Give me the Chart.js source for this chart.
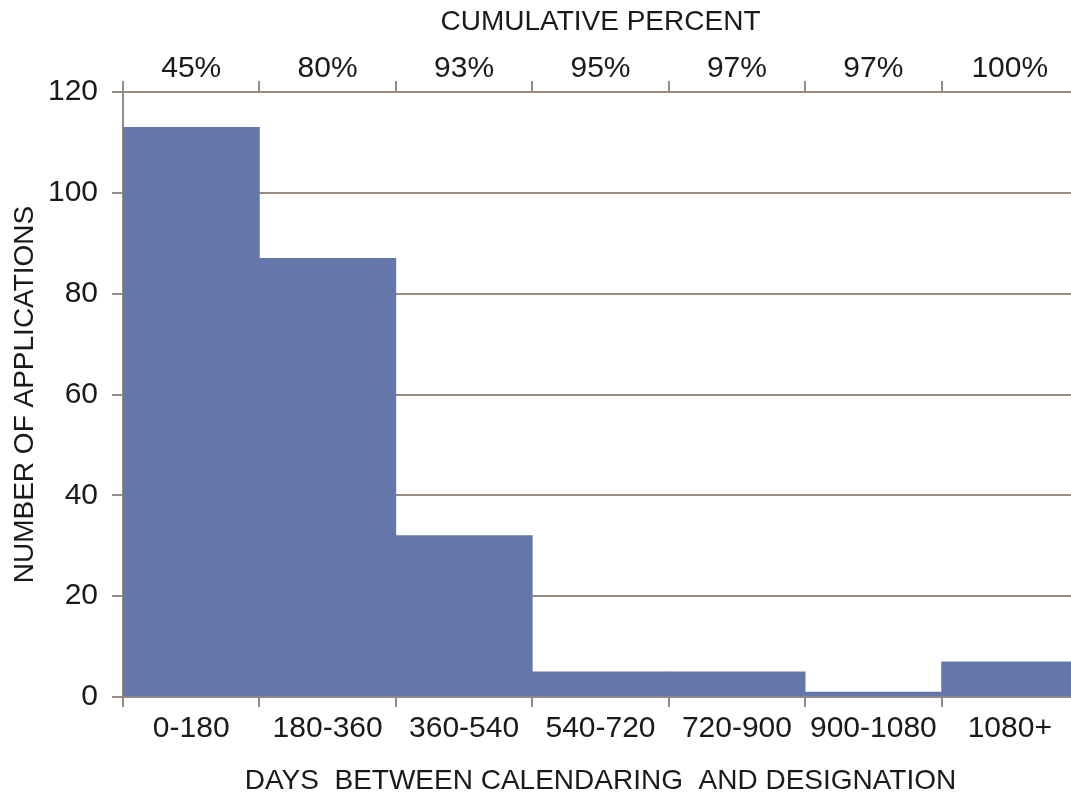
<!DOCTYPE html>
<html>
<head>
<meta charset="utf-8">
<script src="https://cdn.jsdelivr.net/npm/chart.js@4"></script>
<style>
  body { margin: 0; background: #fff; overflow: hidden; }
</style>
</head>
<body>
<canvas id="myChart" width="1078" height="799"></canvas>
<script>
  const dayRanges = ['0-180', '180-360', '360-540', '540-720', '720-900', '900-1080', '1080+']
  const applications = [113, 87, 32, 5, 5, 1, 7]
  const cumulativePct = ['45%', '80%', '93%', '95%', '97%', '97%', '100%']

  const axisColor = '#958b82'
  const font = 'Liberation Sans, Arial, Helvetica, sans-serif'

  let ctx = document.getElementById('myChart')

  new Chart(ctx, {
    type: 'bar',
    data: {
      labels: dayRanges,
      datasets: [
        {
          label: 'Applications',
          backgroundColor: '#6377ab',
          data: applications,
          borderWidth: 0,
          categoryPercentage: 1,
          barPercentage: 1
        }
      ]
    },
    options: {
      responsive: false,
      animation: false,
      layout: { padding: 0 },
      plugins: {
        legend: { display: false },
        tooltip: { enabled: false }
      },
      scales: {
        x: {
          position: 'bottom',
          offset: true,
          grid: { offset: true, drawOnChartArea: false, color: axisColor, lineWidth: 2, tickLength: 10 },
          border: { color: axisColor, width: 2 },
          ticks: { color: '#1a1a1a', padding: 4, font: { family: font, size: 30 } },
          title: {
            display: true,
            text: 'DAYS  BETWEEN CALENDARING  AND DESIGNATION',
            color: '#1a1a1a',
            padding: { top: 0, bottom: 1 },
            font: { family: font, size: 28 }
          },
          afterFit: (scale) => { scale.height = 102 }
        },
        x2: {
          type: 'category',
          position: 'top',
          labels: cumulativePct,
          offset: true,
          grid: { offset: true, drawOnChartArea: false, color: axisColor, lineWidth: 2, tickLength: 11 },
          border: { color: axisColor, width: 2 },
          ticks: { color: '#1a1a1a', padding: -6, font: { family: font, size: 30 } },
          title: {
            display: true,
            text: 'CUMULATIVE PERCENT',
            color: '#1a1a1a',
            padding: { top: 5, bottom: 0 },
            font: { family: font, size: 28 }
          },
          afterFit: (scale) => { scale.height = 92 }
        },
        y: {
          min: 0,
          max: 120,
          ticks: { stepSize: 20, color: '#1a1a1a', padding: 14, font: { family: font, size: 30 } },
          grid: { color: axisColor, lineWidth: 2, tickLength: 11 },
          border: { color: axisColor, width: 2 },
          title: {
            display: true,
            text: 'NUMBER OF APPLICATIONS',
            color: '#1a1a1a',
            padding: { top: 8, bottom: 0 },
            font: { family: font, size: 28 }
          },
          afterFit: (scale) => { scale.width = 123 }
        }
      }
    }
  })
</script>
</body>
</html>
